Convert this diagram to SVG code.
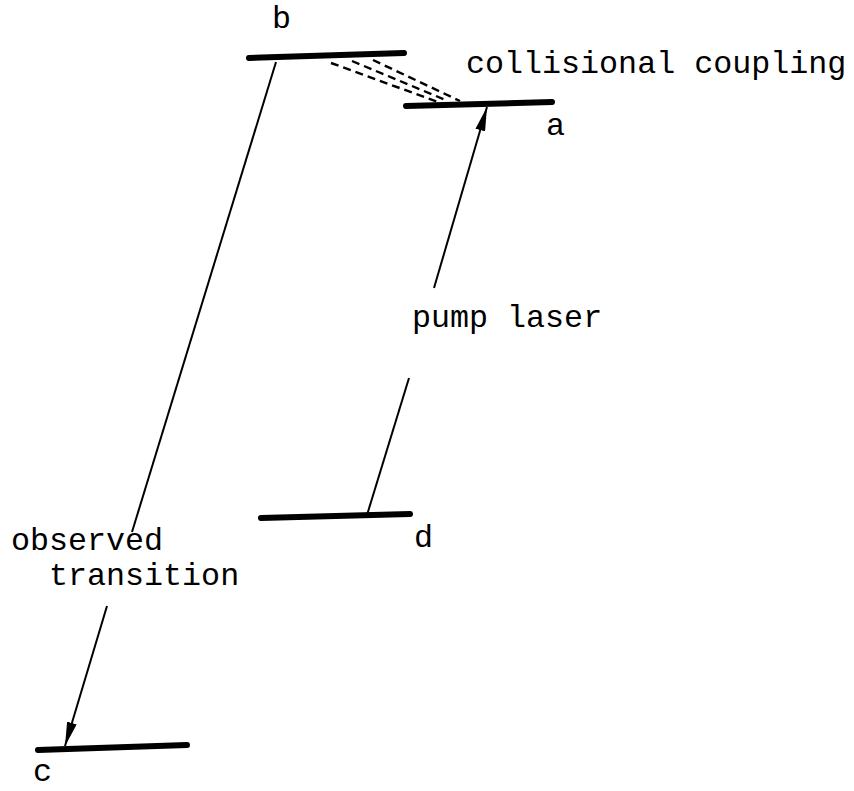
<svg xmlns="http://www.w3.org/2000/svg" width="854" height="791" viewBox="0 0 854 791">
<style>
.lvl{stroke:#000;stroke-width:6;stroke-linecap:round;fill:none}
.ln{stroke:#000;stroke-width:2;fill:none}
.dash{stroke:#000;stroke-width:2.4;stroke-dasharray:8 5;fill:none}
text{font-family:"Liberation Mono","Courier New",monospace;font-size:31.7px;fill:#000}
</style>
<defs>
<marker id="arr" viewBox="0 0 24 10" refX="24" refY="5" markerWidth="24" markerHeight="10" markerUnits="userSpaceOnUse" orient="auto">
<path d="M0,0 L24,5 L0,10 Z" fill="#000"/>
</marker>
</defs>
<rect width="854" height="791" fill="#fff"/>
<g id="level-b"><line class="lvl" x1="249" y1="58" x2="404" y2="53"/><text x="272" y="28">b</text></g>
<g id="level-a"><line class="lvl" x1="406" y1="106" x2="552" y2="102"/><text x="546" y="135">a</text></g>
<g id="level-d"><line class="lvl" x1="261" y1="518" x2="410" y2="514"/><text x="414" y="547">d</text></g>
<g id="level-c"><line class="lvl" x1="38" y1="750" x2="187" y2="745"/><text x="33" y="781">c</text></g>
<g id="label-collisional"><text x="466" y="73">collisional coupling</text></g>
<g id="label-pump"><text x="412" y="327">pump laser</text></g>
<g id="label-observed"><text x="11" y="550">observed</text><text x="49" y="585">transition</text></g>
<g id="connectors">
<line class="dash" x1="331" y1="63" x2="438" y2="102"/>
<line class="dash" x1="352" y1="61" x2="448" y2="101"/>
<line class="dash" x1="373" y1="60" x2="460" y2="101"/>
<line class="ln" x1="276" y1="62" x2="132" y2="532"/>
<line class="ln" x1="107" y1="606" x2="65" y2="746" marker-end="url(#arr)"/>
<line class="ln" x1="367" y1="515" x2="409" y2="378"/>
<line class="ln" x1="434" y1="288" x2="487" y2="107" marker-end="url(#arr)"/>
</g>
</svg>
